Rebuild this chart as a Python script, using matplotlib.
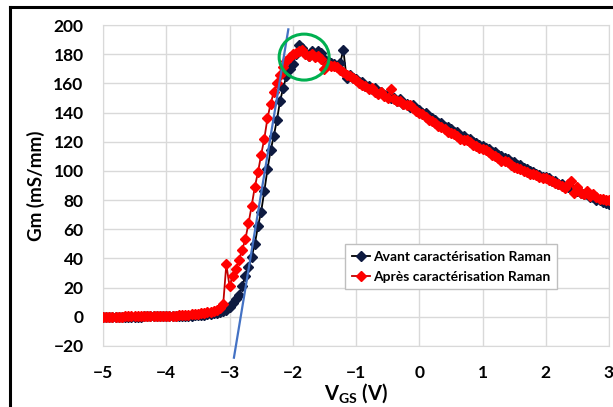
import numpy as np
import matplotlib
matplotlib.use("Agg")
import matplotlib.pyplot as plt
from matplotlib.patches import Ellipse

plt.rcParams["font.family"] = ["Lato", "DejaVu Sans"]
plt.rcParams["font.weight"] = "bold"
plt.rcParams["mathtext.fontset"] = "custom"
plt.rcParams["mathtext.rm"] = "Lato:bold"
plt.rcParams["mathtext.bf"] = "Lato:bold"
plt.rcParams["mathtext.it"] = "Lato:bold"

# Gate voltage sweep (V), 0.05 V step
vgs = np.round(np.arange(-5.0, 3.0001, 0.05), 2)

# Gm before Raman (mS/mm)
gm_avant = [
    # -5.00 .. -4.00
    0.0, 0.0, 0.0, 0.1, 0.1, 0.1, 0.1, 0.1, 0.2, 0.2, 0.2, 0.2, 0.2, 0.3, 0.3, 0.3, 0.3, 0.3, 0.4, 0.4, 0.4,
    # -3.95 .. -3.10
    0.4, 0.5, 0.5, 0.6, 0.6, 0.7, 0.8, 0.9, 1.0, 1.1, 1.3, 1.5, 1.7, 2.0, 2.3, 2.7, 3.2, 4.0,
    # -3.05 .. -1.05
    5, 7, 9.5, 12, 15, 21, 28, 34, 41, 50,
    62, 72, 86, 101, 114, 124, 135, 148, 157, 165,
    170, 173, 180, 186, 184, 181, 179, 182, 180, 182,
    181, 177, 175, 174, 173, 172, 174, 183, 164, 166,
    164,
    # -1.00 .. 3.00
    163, 161, 161, 158, 158, 156, 157, 154, 154, 152, 153, 150, 150, 148, 149, 146, 146, 144, 145, 142,
    142, 140, 140, 137, 136, 135, 133, 133, 130, 130, 129, 127, 127, 124, 124, 122, 122, 120, 119, 118,
    117, 116, 115, 113, 113, 111, 110, 109, 108, 106, 106, 104, 104, 102, 101, 100, 99, 98, 97, 96,
    96, 95, 93, 93, 91, 91, 89, 89, 88, 87, 86, 85, 84, 84, 82, 82, 80, 80, 79, 78, 77,
]

# Gm after Raman (mS/mm)
gm_apres = [
    # -5.00 .. -4.00
    0.1, 0.1, 0.1, 0.2, 0.2, 0.2, 0.2, 0.3, 0.3, 0.3, 0.3, 0.4, 0.4, 0.4, 0.5, 0.5, 0.5, 0.6, 0.6, 0.6, 0.7,
    # -3.95 .. -3.10
    0.7, 0.8, 0.9, 1.0, 1.1, 1.2, 1.4, 1.6, 1.8, 2.0, 2.3, 2.6, 3.0, 3.5, 4.2, 5.0, 6.0, 8.5,
    # -3.05 .. -1.05
    36, 21, 28, 33, 39, 46, 53, 64, 76, 89,
    99, 111, 122, 136, 146, 154, 160, 166, 171, 175,
    178, 180, 181, 182, 183, 180, 179, 180, 178, 179,
    177, 170, 173, 172, 172, 171, 169, 168, 166, 165,
    164,
    # -1.00 .. 3.00
    162, 160, 159, 158, 156, 157, 154, 153, 154, 151, 150, 156, 149, 148, 148, 146, 145, 145, 143, 141,
    140, 139, 137, 135, 134, 133, 131, 130, 129, 127, 126, 125, 124, 122, 121, 121, 120, 118, 117, 116,
    115, 114, 113, 111, 110, 109, 107, 107, 106, 104, 103, 102, 101, 100, 99, 98, 98, 97, 96, 95,
    95, 94, 93, 92, 91, 90, 88, 91, 93, 85, 89, 85, 84, 86, 83, 84, 82, 81, 81, 80, 80,
]

# tangent line (blue) and highlighted peak (green circle)
tangent_v = [-2.93, -2.07]
tangent_gm = [-28, 197]
peak_center = (-1.82, 178)
peak_size = (0.79, 31.5)

x_ticks = [-5, -4, -3, -2, -1, 0, 1, 2, 3]
y_ticks = [-20, 0, 20, 40, 60, 80, 100, 120, 140, 160, 180, 200]

fig = plt.figure(figsize=(6.13, 4.07), dpi=100)
ax = fig.add_axes([103 / 613, 1 - 346 / 407, 506 / 613, 321 / 407])

ax.plot(vgs, gm_avant, color="black", lw=1.3, marker="D", ms=5,
        mfc="#0e1a40", mec="#0e1a40", label="Avant caractérisation Raman", zorder=3)
ax.plot(vgs, gm_apres, color="#c00000", lw=1.3, marker="D", ms=5,
        mfc="#ff0000", mec="#ff0000", label="Après caractérisation Raman", zorder=4)
ax.plot(tangent_v, tangent_gm, color="#4472c4", lw=1.6, zorder=5, clip_on=False)

ax.add_patch(Ellipse(peak_center, peak_size[0], peak_size[1], fill=False,
                     edgecolor="#00b050", lw=2.2, zorder=6))

ax.set_xlim(-5, 3)
ax.set_ylim(-20, 200)
ax.set_xticks(x_ticks)
ax.set_yticks(y_ticks)
ax.tick_params(length=0, labelsize=12.5, pad=14)
ax.grid(True, color="#d9d9d9", lw=1)
ax.set_axisbelow(True)
for s in ax.spines.values():
    s.set_color("#d9d9d9")

ax.set_ylabel("Gm (mS/mm)", fontsize=13.5, fontweight="bold", labelpad=6)
ax.set_xlabel(r"$\mathregular{V_{GS}}$ (V)", fontsize=14.5, fontweight="bold", labelpad=0)

leg = ax.legend(loc="upper left", bbox_to_anchor=(0.478, 0.318), fontsize=10,
                fancybox=False, framealpha=1, edgecolor="#bfbfbf",
                handlelength=1.3, handletextpad=0.2, numpoints=1,
                borderpad=0.5, labelspacing=0.55, borderaxespad=0)
leg.get_frame().set_linewidth(1)

# outer chart border
fig.add_artist(plt.Line2D([10 / 613, 10 / 613], [0, 1 - 7 / 407], color="black", lw=2.2))
fig.add_artist(plt.Line2D([10 / 613, 1], [1 - 7 / 407, 1 - 7 / 407], color="black", lw=2.2))

plt.savefig("out.png", dpi=100)
